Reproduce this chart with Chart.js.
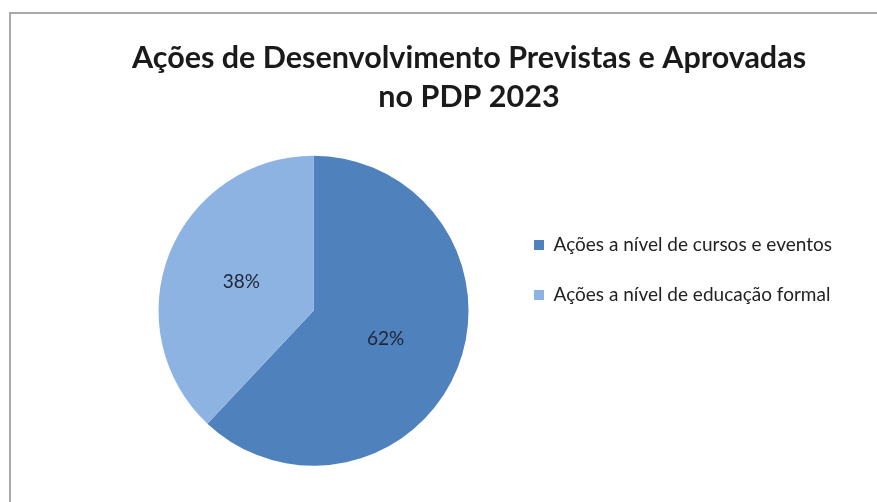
<!DOCTYPE html>
<html>
<head>
<meta charset="utf-8">
<script src="https://cdn.jsdelivr.net/npm/chart.js@4.4.1/dist/chart.umd.min.js"></script>
<style>
  html, body { margin: 0; padding: 0; background: #fff; }
  #wrap { position: relative; width: 877px; height: 502px; overflow: hidden; }
  #frame {
    position: absolute; left: 9px; top: 12px; width: 900px; height: 520px;
    border-top: 2px solid #a9a9a9; border-left: 2px solid #a9a9a9;
  }
  canvas { position: absolute; left: 0; top: 0; }
</style>
</head>
<body>
<div id="wrap">
  <div id="frame"></div>
  <canvas id="pdpChart" width="877" height="502"></canvas>
</div>
<script>
const categories = ["Ações a nível de cursos e eventos", "Ações a nível de educação formal"];
const shares = [62, 38];
const sliceColors = ["#4F81BD", "#8DB3E2"];
const titleLines = ["Ações de Desenvolvimento Previstas e Aprovadas", "no PDP 2023"];

const FONT = "Lato, 'Open Sans', sans-serif";

// percentage labels in the middle of each slice
const sliceLabels = {
  id: "sliceLabels",
  afterDatasetsDraw(chart) {
    const ctx = chart.ctx;
    const meta = chart.getDatasetMeta(0);
    ctx.save();
    ctx.font = "19px " + FONT;
    ctx.fillStyle = "#1f2535";
    ctx.textAlign = "center";
    ctx.textBaseline = "middle";
    meta.data.forEach((arc, i) => {
      const pos = arc.tooltipPosition();
      ctx.fillText(shares[i] + "%", pos.x, pos.y);
    });
    ctx.restore();
  },
};

// title is centred on the whole frame, not on the padded box
const centerTitle = {
  id: "centerTitle",
  afterLayout(chart) {
    const t = chart.titleBlock;
    if (!t) return;
    const shift = 469 - (t.left + t.right) / 2;
    t.left += shift;
    t.right += shift;
  },
};

window.addEventListener("DOMContentLoaded", () => {
  const ctx = document.getElementById("pdpChart").getContext("2d");
  new Chart(ctx, {
    type: "pie",
    data: {
      labels: categories,
      datasets: [
        {
          data: shares,
          backgroundColor: sliceColors,
          borderWidth: 0,
          radius: 155,
        },
      ],
    },
    options: {
      responsive: false,
      animation: false,
      layout: { padding: { top: 38, bottom: 0, left: 124, right: 35 } },
      plugins: {
        title: {
          display: true,
          text: titleLines,
          color: "#1a1a1a",
          font: { family: FONT, size: 30.5, weight: "bold", lineHeight: 1.3 },
          padding: { top: 0, bottom: 2 },
        },
        legend: {
          position: "right",
          labels: {
            color: "#222",
            font: { family: FONT, size: 19 },
            boxWidth: 10,
            boxHeight: 10,
            padding: 31,
          },
        },
        tooltip: { enabled: false },
      },
    },
    plugins: [sliceLabels, centerTitle],
  });
});
</script>
</body>
</html>
